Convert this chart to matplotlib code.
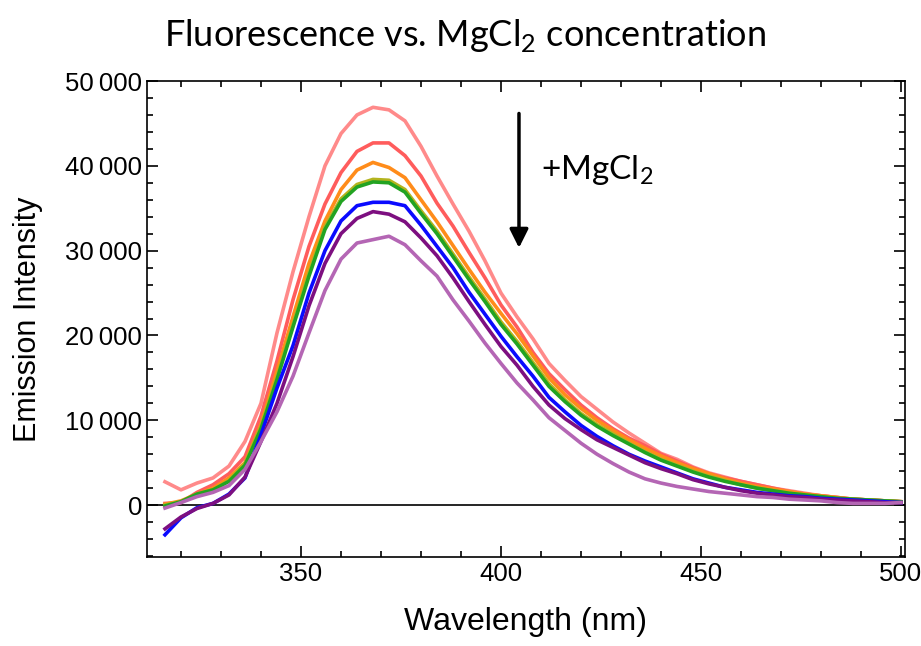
import matplotlib
matplotlib.use("Agg")
import matplotlib.pyplot as plt
from matplotlib.ticker import MultipleLocator, FuncFormatter

plt.rcParams['font.family'] = ['Liberation Sans', 'DejaVu Sans']
plt.rcParams['mathtext.fontset'] = 'custom'
plt.rcParams['mathtext.rm'] = 'Lato'

wavelength = list(range(316, 501, 4))

# emission spectra, highest (no MgCl2) to lowest
light_red = [2750, 1800, 2600, 3200, 4600, 7500, 12000, 20300, 27500, 34000, 40000, 43800,
             46000, 46900, 46600, 45300, 42300, 38800, 35500, 32300, 28800, 25000, 22200, 19600,
             16700, 14700, 12800, 11300, 9800, 8500, 7300, 6100, 5400, 4500, 3800, 3300,
             2800, 2400, 2000, 1700, 1400, 1100, 900, 700, 600, 500, 400]
red = [200, 300, 1500, 2400, 3700, 5700, 10500, 17000, 24200, 30500, 35500, 39200,
       41700, 42700, 42700, 41200, 38800, 35600, 32900, 29800, 26800, 23600, 21000, 18000,
       15500, 13600, 11800, 10300, 9000, 7900, 7000, 6000, 5200, 4400, 3700, 3200,
       2800, 2400, 2000, 1600, 1300, 1100, 900, 700, 600, 500, 400]
orange = [100, 500, 1300, 2000, 3200, 5000, 9500, 15800, 22200, 28500, 33500, 37200,
          39500, 40400, 39800, 38600, 36000, 33400, 30600, 27800, 25100, 22600, 20200, 17600,
          15000, 13000, 11400, 10000, 8800, 7700, 6700, 5800, 5000, 4300, 3700, 3100,
          2600, 2200, 1900, 1600, 1300, 1100, 900, 700, 600, 500, 400]
olive = [0, 400, 1300, 1800, 2900, 4900, 9300, 15100, 21300, 27400, 32800, 36100,
         37800, 38400, 38300, 37200, 34700, 32300, 29600, 26900, 24300, 21600, 19300, 16800,
         14300, 12400, 10800, 9500, 8400, 7300, 6300, 5400, 4700, 4000, 3400, 2900,
         2400, 2000, 1700, 1400, 1200, 1000, 800, 700, 600, 500, 400]
green = [-100, 400, 1300, 1800, 2800, 4700, 9000, 14800, 21000, 27000, 32500, 35800,
         37500, 38100, 38000, 36900, 34400, 32000, 29300, 26600, 24000, 21300, 19000, 16500,
         14000, 12200, 10600, 9300, 8200, 7200, 6200, 5300, 4600, 3900, 3300, 2800,
         2400, 2000, 1700, 1400, 1200, 1000, 800, 700, 600, 500, 400]
blue = [-3500, -1500, -300, 200, 1300, 3200, 8300, 13800, 18800, 25000, 30000, 33500,
        35300, 35700, 35700, 35300, 33000, 30500, 28000, 25100, 22500, 19900, 17500, 15200,
        12700, 11000, 9400, 8100, 7000, 6000, 5200, 4500, 3800, 3100, 2600, 2100,
        1800, 1500, 1300, 1100, 1000, 800, 700, 600, 500, 400, 300]
purple = [-2800, -1400, -400, 200, 1200, 3300, 7500, 12000, 17500, 23500, 28500, 32000,
          33800, 34600, 34300, 33400, 31500, 29400, 26800, 24000, 21300, 18700, 16500, 14000,
          11800, 10200, 8900, 7700, 6800, 5900, 5000, 4300, 3700, 3000, 2500, 2100,
          1700, 1400, 1200, 1000, 900, 700, 600, 500, 400, 300, 300]
light_purple = [-350, 300, 1000, 1500, 2300, 4200, 7500, 11000, 15200, 20300, 25300, 29000,
                30900, 31300, 31700, 30700, 28800, 27000, 24200, 21700, 19100, 16700, 14400, 12400,
                10300, 8800, 7300, 6000, 4900, 3900, 3100, 2600, 2200, 1900, 1600, 1400,
                1200, 1000, 900, 700, 600, 500, 300, 200, 200, 200, 300]

series = [light_red, red, orange, olive, green, blue, purple, light_purple]
colors = ["#ff8a8a", "#ff5c5c", "#ff8c1a", "#b4b41e", "#22a322", "#0a0aff", "#7d0f80", "#b466b4"]

fig = plt.figure(figsize=(9.21, 6.46), dpi=100)
ax = fig.add_axes([0.1596, 0.138, 0.823, 0.7366])

ax.axhline(0, color="black", linewidth=1.2, zorder=1)
for y, c in zip(series, colors):
    ax.plot(wavelength, y, color=c, linewidth=2.6, zorder=2)

ax.set_xlim(311.5, 501)
ax.set_ylim(-6100, 50000)

ax.xaxis.set_major_locator(MultipleLocator(50))
ax.xaxis.set_minor_locator(MultipleLocator(10))
ax.yaxis.set_major_locator(MultipleLocator(10000))
ax.yaxis.set_minor_locator(MultipleLocator(2000))
ax.yaxis.set_major_formatter(FuncFormatter(lambda v, p: "{:,.0f}".format(v).replace(",", "\u2009")))
ax.tick_params(which="both", direction="in", top=True, right=True, width=1.2, labelsize=18.5)
ax.tick_params(which="major", length=8)
ax.tick_params(which="minor", length=4)
for s in ax.spines.values():
    s.set_linewidth(1.2)

ax.set_xlabel("Wavelength (nm)", fontsize=23, labelpad=15)
ax.set_ylabel("Emission Intensity", fontsize=22, labelpad=16)

ax.annotate("", xy=(404.5, 30000), xytext=(404.5, 46500),
            arrowprops=dict(arrowstyle="-|>", color="black", lw=2.5, mutation_scale=28))
ax.text(410, 39500, r"+MgCl$_2$", fontsize=24, family="Lato", va="center", ha="left")

fig.text(0.505, 0.945, r"Fluorescence vs. MgCl$_2$ concentration", fontsize=26,
         family="Lato", ha="center", va="center")

plt.savefig("out.png", dpi=100)
plt.close()
